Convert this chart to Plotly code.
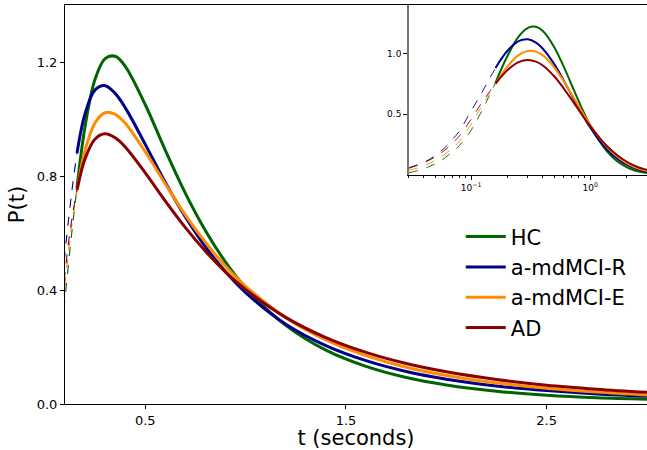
import plotly.graph_objects as go

# group names / colours
groups = ["HC", "a-mdMCI-R", "a-mdMCI-E", "AD"]
colors = ["#006400", "#00008B", "#FF8C00", "#8B0000"]

# fitted range (solid lines), seconds
t_fit = [0.16, 0.2, 0.25, 0.3, 0.35, 0.4, 0.5, 0.6, 0.7, 0.8, 0.9, 1.0,
         1.2, 1.4, 1.6, 1.8, 2.0, 2.25, 2.5, 2.75, 3.0]
p_hc = [0.761, 0.974, 1.140, 1.212, 1.220, 1.185, 1.050, 0.890, 0.739, 0.608, 0.498, 0.408,
        0.276, 0.189, 0.132, 0.093, 0.067, 0.045, 0.031, 0.022, 0.017]
p_r = [0.881, 1.019, 1.102, 1.117, 1.090, 1.040, 0.911, 0.777, 0.656, 0.551, 0.464, 0.391,
       0.280, 0.205, 0.152, 0.114, 0.087, 0.063, 0.047, 0.035, 0.027]
p_e = [0.749, 0.890, 0.987, 1.022, 1.016, 0.985, 0.885, 0.772, 0.663, 0.567, 0.483, 0.413,
       0.303, 0.225, 0.170, 0.129, 0.100, 0.074, 0.055, 0.042, 0.032]
p_ad = [0.752, 0.861, 0.930, 0.948, 0.934, 0.902, 0.811, 0.712, 0.619, 0.536, 0.463, 0.402,
        0.304, 0.233, 0.181, 0.142, 0.113, 0.086, 0.066, 0.052, 0.041]

# extrapolated short-time part (dashed)
t_ext = [0.03, 0.04, 0.05, 0.06, 0.07, 0.08, 0.1, 0.12, 0.14, 0.16]
e_hc = [0.018, 0.052, 0.093, 0.140, 0.195, 0.245, 0.370, 0.510, 0.640, 0.761]
e_r = [0.060, 0.105, 0.160, 0.225, 0.295, 0.365, 0.530, 0.660, 0.780, 0.881]
e_e = [0.038, 0.075, 0.120, 0.170, 0.225, 0.280, 0.420, 0.550, 0.660, 0.749]
e_ad = [0.055, 0.100, 0.150, 0.205, 0.265, 0.325, 0.460, 0.580, 0.675, 0.752]

fits = [p_hc, p_r, p_e, p_ad]
exts = [e_hc, e_r, e_e, e_ad]

FONT = "DejaVu Sans"

fig = go.Figure()

for name, col, ys, ye in zip(groups, colors, fits, exts):
    # main panel
    fig.add_trace(go.Scatter(x=t_ext, y=ye, mode="lines", showlegend=False,
                             line=dict(color=col, width=1.1, dash="dash", shape="spline"),
                             hoverinfo="skip"))
    fig.add_trace(go.Scatter(x=t_fit, y=ys, mode="lines", name=name,
                             line=dict(color=col, width=3, shape="spline")))
    # inset, log time axis
    fig.add_trace(go.Scatter(x=t_ext, y=ye, mode="lines", showlegend=False,
                             xaxis="x2", yaxis="y2", hoverinfo="skip",
                             line=dict(color=col, width=0.9, dash="dash", shape="spline")))
    fig.add_trace(go.Scatter(x=t_fit, y=ys, mode="lines", showlegend=False,
                             xaxis="x2", yaxis="y2",
                             line=dict(color=col, width=2, shape="spline")))

fig.update_layout(
    width=647, height=450,
    margin=dict(l=65, r=0, t=5, b=46),
    paper_bgcolor="white", plot_bgcolor="white",
    font=dict(family=FONT, color="black", size=13),
    xaxis=dict(range=[0.1, 3.0], tickvals=[0.5, 1.5, 2.5], ticktext=["0.5", "1.5", "2.5"],
               showline=True, linecolor="black", linewidth=1, mirror=True,
               ticks="outside", ticklen=4, tickcolor="black", showgrid=False, zeroline=False,
               title=dict(text="t (seconds)", font=dict(size=21), standoff=5)),
    yaxis=dict(range=[0, 1.4], tickvals=[0, 0.4, 0.8, 1.2],
               ticktext=["0.0", "0.4", "0.8", "1.2"],
               showline=True, linecolor="black", linewidth=1,
               ticks="outside", ticklen=4, tickcolor="black", showgrid=False, zeroline=False,
               title=dict(text="P(t)", font=dict(size=21), standoff=6)),
    xaxis2=dict(type="log", domain=[0.591, 1.0], anchor="y2", range=[-1.523, 0.477],
                tickvals=[0.1, 1], ticktext=["10<sup>−1</sup>", "10<sup>0</sup>"],
                tickfont=dict(size=9), ticks="outside", ticklen=4, tickcolor="black",
                minor=dict(ticks="outside", ticklen=2, tickcolor="black",
                           tickvals=[0.03, 0.04, 0.05, 0.06, 0.07, 0.08, 0.09,
                                     0.2, 0.3, 0.4, 0.5, 0.6, 0.7, 0.8, 0.9, 2, 3]),
                showline=True, linecolor="black", linewidth=1, showgrid=False, zeroline=False),
    yaxis2=dict(domain=[0.574, 1.0], anchor="x2", range=[0, 1.4],
                tickvals=[0.5, 1.0], ticktext=["0.5", "1.0"], tickfont=dict(size=9),
                ticks="outside", ticklen=4, tickcolor="black",
                showline=True, linecolor="#777777", linewidth=1.5, showgrid=False, zeroline=False),
    legend=dict(x=0.68, y=0.47, xanchor="left", yanchor="top", bgcolor="rgba(0,0,0,0)",
                font=dict(size=21), tracegroupgap=0, itemwidth=40),
    showlegend=True,
)

# drop the browser's default 8px body margin so the figure sits at the page corner
fig.write_html("out.html", config={"displayModeBar": False},
               post_script="document.body.style.margin='0';")
